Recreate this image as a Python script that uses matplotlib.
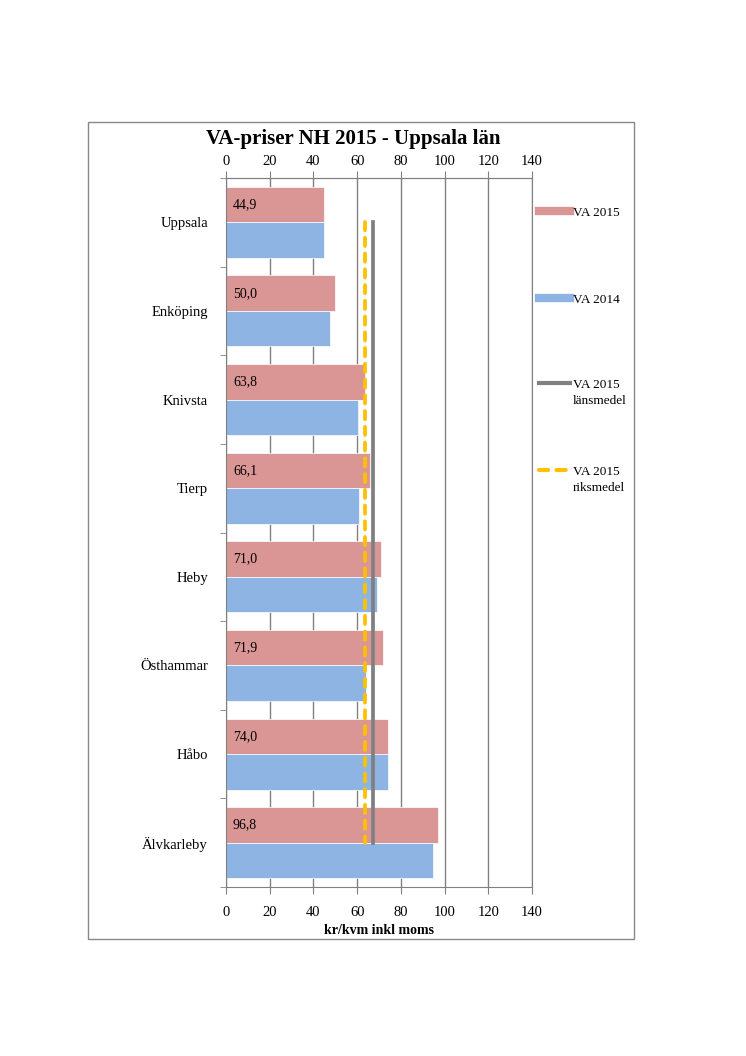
import numpy as np
import matplotlib.pyplot as plt
from matplotlib.patches import Rectangle
from matplotlib.lines import Line2D

plt.rcParams['font.family'] = ['Liberation Serif', 'DejaVu Serif']

# data
kommuner = ["Uppsala", "Enköping", "Knivsta", "Tierp", "Heby", "Östhammar", "Håbo", "Älvkarleby"]
va2015 = [44.9, 50.0, 63.8, 66.1, 71.0, 71.9, 74.0, 96.8]
va2014 = [44.8, 47.6, 60.5, 61.0, 68.9, 64.0, 74.0, 94.5]
lansmedel = 67.4
riksmedel = 63.7

RED = '#D99694'
BLUE = '#8EB4E3'
GRAY = '#808080'
YELLOW = '#FFC000'
DASH = (2.2, 2.0)

fig = plt.figure(figsize=(7.46, 10.56), dpi=100)
ax = fig.add_axes([226/746, 1-887/1056, 306/746, 709/1056])

# outer frame round the chart
fig.patches.append(Rectangle((88/746, 1-939/1056), 546/746, 817/1056,
                             transform=fig.transFigure, fill=False,
                             edgecolor='#888888', linewidth=1))

y = np.arange(len(kommuner))
h = 0.4
ax.barh(y - h/2, va2015, height=h, color=RED, edgecolor='white', linewidth=0.5, zorder=2)
ax.barh(y + h/2, va2014, height=h, color=BLUE, edgecolor='white', linewidth=0.5, zorder=2)

for yi, v in zip(y, va2015):
    ax.annotate(f"{v:.1f}".replace('.', ','), (0, yi - h/2), xytext=(5, 0),
                textcoords='offset points', va='center', ha='left', fontsize=10, zorder=4)

ax.plot([lansmedel, lansmedel], [y[0], y[-1]], color=GRAY, linewidth=2.7, zorder=3)
ax.plot([riksmedel, riksmedel], [y[0], y[-1]], color=YELLOW, linewidth=2.7,
        dashes=DASH, dash_capstyle='round', zorder=3)

ticks = np.arange(0, 141, 20)
ax.set_xlim(0, 140)
ax.set_xticks(ticks)
ax.set_ylim(len(kommuner) - 0.5, -0.5)
ax.set_yticks(y)
ax.set_yticklabels(kommuner, fontsize=10.5)
ax.set_yticks(np.arange(-0.5, len(kommuner)), minor=True)
ax.tick_params(axis='y', which='major', length=0, pad=13)
ax.tick_params(axis='y', which='minor', length=4, color=GRAY)
ax.tick_params(axis='x', length=5, color=GRAY, labelsize=10.5, pad=9)

# top axis with its own padding
top = ax.secondary_xaxis('top')
top.set_xticks(ticks)
top.tick_params(length=5, color=GRAY, labelsize=10.5, pad=2)
top.spines['top'].set_color(GRAY)

ax.grid(axis='x', color=GRAY, linewidth=1, zorder=0)
ax.set_axisbelow(True)
for s in ['top', 'bottom', 'left', 'right']:
    ax.spines[s].set_color(GRAY)

ax.set_xlabel("kr/kvm inkl moms", fontsize=10, fontweight='bold', labelpad=3)

fig.text(353/746, 1-139/1056, "VA-priser NH 2015 - Uppsala län", ha='center', va='center',
         fontsize=15, fontweight='bold')

# legend drawn by hand, entries far apart like the original
leg_items = [
    (dict(color=RED, linewidth=6), "VA 2015", 211),
    (dict(color=BLUE, linewidth=6), "VA 2014", 298),
    (dict(color=GRAY, linewidth=3), "VA 2015\nlänsmedel", 383),
    (dict(color=YELLOW, linewidth=3, dashes=DASH, dash_capstyle='round'), "VA 2015\nriksmedel", 470),
]
for style, label, ypix in leg_items:
    yf = 1 - ypix/1056
    fig.add_artist(Line2D([539/746, 570/746], [yf, yf], transform=fig.transFigure, **style))
    fig.text(573/746, yf + 4/1056, label, ha='left', va='top', fontsize=9.5, linespacing=1.45)

fig.savefig("out.png", dpi=100)
